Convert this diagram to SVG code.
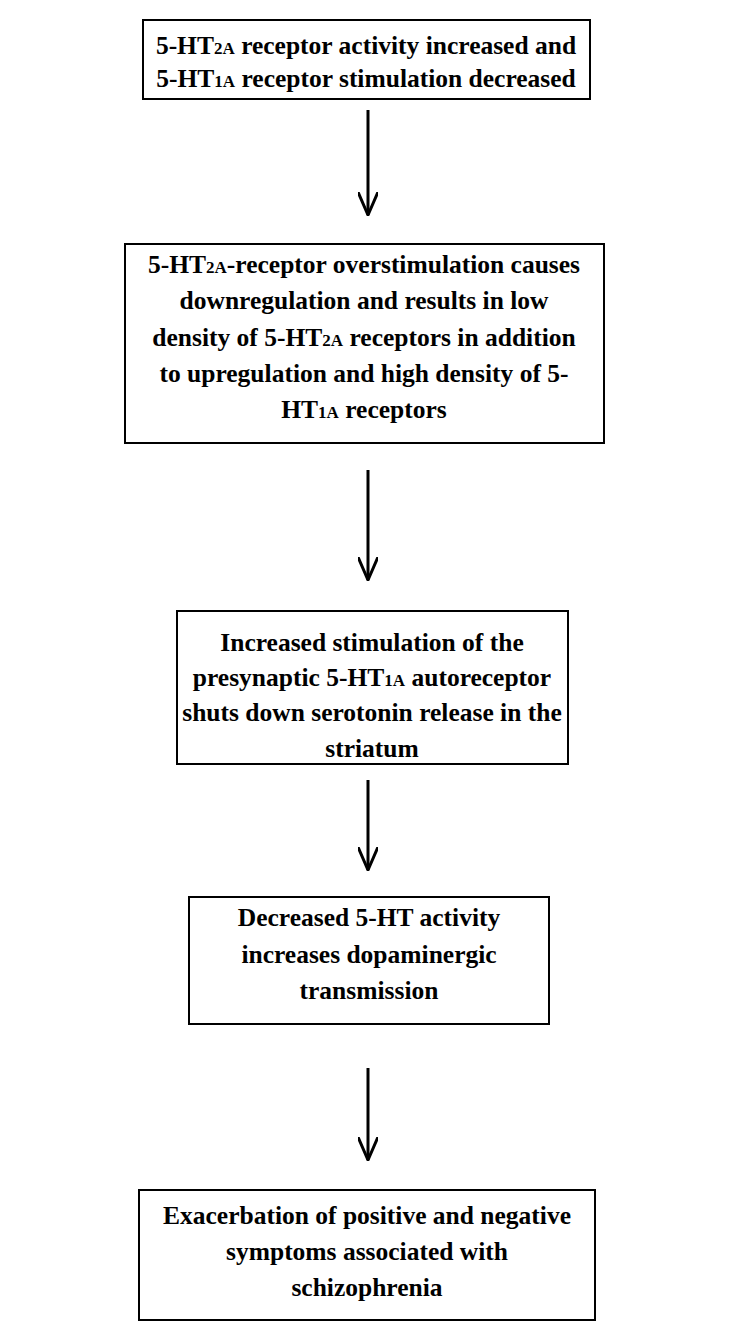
<svg xmlns="http://www.w3.org/2000/svg" width="750" height="1341" viewBox="0 0 750 1341">
<style>
.b{fill:#fff;stroke:#000;stroke-width:2}
text{font-family:"Liberation Serif",serif;font-weight:bold;font-size:25.5px;text-anchor:middle;fill:#000}
.s{font-size:17px}
.c{stroke:#000;stroke-width:3;fill:none}
</style>
<defs>
<marker id="h" viewBox="0 0 24 20" refX="23" refY="10" markerWidth="24" markerHeight="20" markerUnits="userSpaceOnUse" orient="auto"><path d="M0,0 L23,10 L0,20" fill="none" stroke="#000" stroke-width="3"/></marker></defs>
<rect width="750" height="1341" fill="#fff"/>
<g id="connectors">
<line class="c" x1="368" y1="110" x2="368" y2="215" marker-end="url(#h)"/>
<line class="c" x1="368" y1="470" x2="368" y2="580" marker-end="url(#h)"/>
<line class="c" x1="368" y1="780" x2="368" y2="870" marker-end="url(#h)"/>
<line class="c" x1="368" y1="1068" x2="368" y2="1160" marker-end="url(#h)"/>
</g>
<g id="n1"><rect class="b" x="143" y="20" width="447" height="79"/>
<text x="366" y="54">5-HT<tspan class="s">2A</tspan> receptor activity increased and</text>
<text x="366" y="87">5-HT<tspan class="s">1A</tspan> receptor stimulation decreased</text></g>
<g id="n2"><rect class="b" x="125" y="244" width="479" height="199"/>
<text x="364" y="273">5-HT<tspan class="s">2A</tspan>-receptor overstimulation causes</text>
<text x="364" y="309">downregulation and results in low</text>
<text x="364" y="346">density of 5-HT<tspan class="s">2A</tspan> receptors in addition</text>
<text x="364" y="382">to upregulation and high density of 5-</text>
<text x="364" y="418">HT<tspan class="s">1A</tspan> receptors</text></g>
<g id="n3"><rect class="b" x="177" y="611" width="391" height="153"/>
<text x="372" y="651">Increased stimulation of the</text>
<text x="372" y="686">presynaptic 5-HT<tspan class="s">1A</tspan> autoreceptor</text>
<text x="372" y="721">shuts down serotonin release in the</text>
<text x="372" y="757">striatum</text></g>
<g id="n4"><rect class="b" x="189" y="897" width="360" height="127"/>
<text x="369" y="926">Decreased 5-HT activity</text>
<text x="369" y="963">increases dopaminergic</text>
<text x="369" y="999">transmission</text></g>
<g id="n5"><rect class="b" x="139" y="1190" width="456" height="130"/>
<text x="367" y="1224">Exacerbation of positive and negative</text>
<text x="367" y="1260">symptoms associated with</text>
<text x="367" y="1296">schizophrenia</text></g>
</svg>
